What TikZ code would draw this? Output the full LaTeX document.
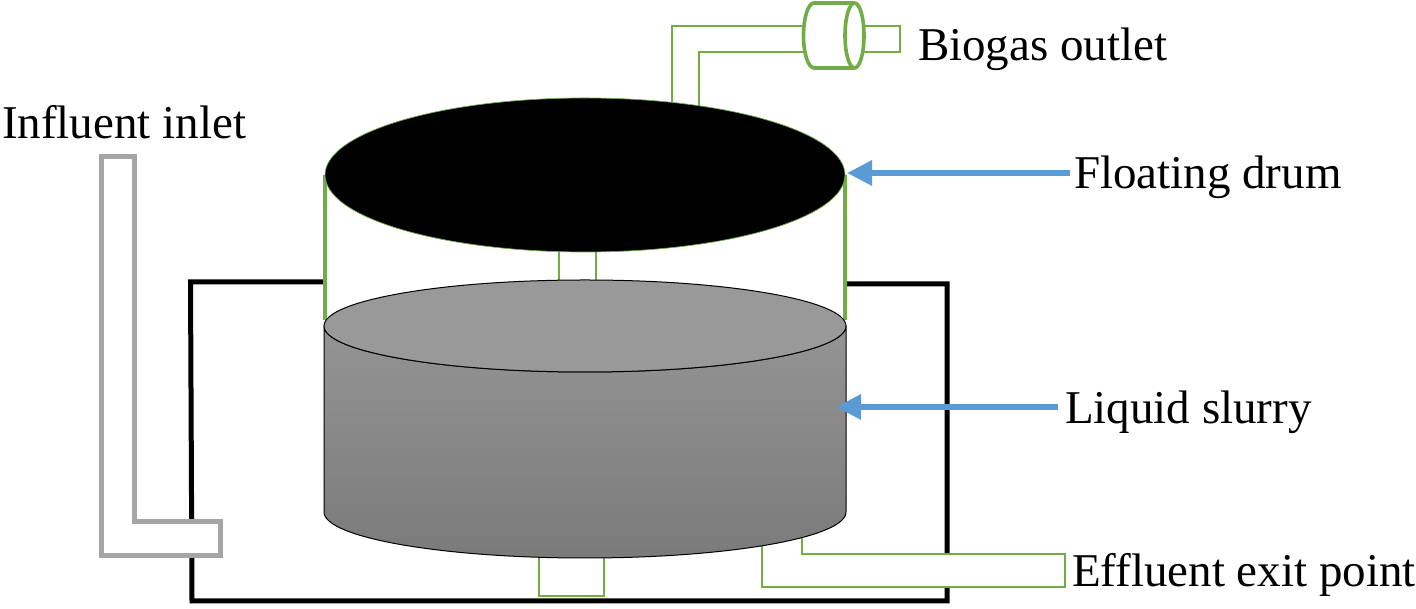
\documentclass[tikz,border=0pt]{standalone}
\usepackage{fontspec}
\setmainfont{Liberation Serif}
\usetikzlibrary{arrows.meta}

\definecolor{pipeColor}{RGB}{112,173,71}
\definecolor{inletColor}{RGB}{165,165,165}
\definecolor{arrowColor}{RGB}{91,155,213}

\tikzset{
  pipe/.style={draw=pipeColor,line width=1.6pt,line join=miter,fill=white},
  bluearrow/.style={draw=arrowColor,line width=6pt,-{Triangle[length=25pt,width=24pt]}},
  label/.style={anchor=base west,inner sep=0pt,outer sep=0pt,font=\fontsize{47}{52}\selectfont}
}

\begin{document}
\begin{tikzpicture}[x=1pt,y=1pt]
\path[use as bounding box,fill=white] (0,0) rectangle (1416,609);

% tank
\path[draw=black,line width=5pt,line join=miter] (326,327) -- (190.5,327) -- (192,8) -- (947,8) -- (947,325) -- (846,325);

% pipes behind the drum and the slurry
\path[pipe] (672,480) -- (672,583) -- (830,583) -- (830,557) -- (699,557) -- (699,480);
\path[pipe] (850,583) -- (900,583) -- (900,557) -- (850,557);
\path[pipe,fill=none] (559,290) -- (559,370);
\path[pipe,fill=none] (596,290) -- (596,370);
\path[pipe] (539,70) -- (539,13) -- (604,13) -- (604,70);
\path[pipe] (762,80) -- (762,22) -- (1065,22) -- (1065,55) -- (802,55) -- (802,80);

% gas holder on the outlet
\path[draw=pipeColor,line width=3.6pt,fill=white] (854.5,606) -- (814,606) arc (90:270:10.5 and 32.5) -- (854.5,541);
\path[draw=pipeColor,line width=3.6pt,fill=white] (854.5,573.5) ellipse (9.5 and 32.5);

% floating drum
\path[draw=pipeColor,line width=4.5pt] (325,434) -- (325,289);
\path[draw=pipeColor,line width=4.5pt] (845,434) -- (845,289);
\path[fill=black,draw=pipeColor,line width=0.7pt] (585,434) ellipse (260 and 77);

% liquid slurry
\path[top color=black!42,bottom color=black!52,draw=black,line width=1pt] (324,283) -- (324,97) arc (180:360:261 and 46) -- (846,283) arc (360:180:261 and 46) -- cycle;
\path[fill=black!40,draw=black,line width=1pt] (585,283) ellipse (261 and 46);

% influent pipe
\path[draw=inletColor,line width=5pt,fill=white,line join=miter] (101,452) -- (134,452) -- (134,87) -- (220,87) -- (220,53) -- (101,53) -- cycle;

% labels
\node[label] (biogas) at (918,548) {Biogas outlet};
\node[label] (influent) at (2,470) {Influent inlet};
\node[label] (floating) at (1074,420) {Floating drum};
\node[label] (liquid) at (1065,185) {Liquid slurry};
\node[label] (effluent) at (1072,22) {Effluent exit point};

\coordinate (floatingtip) at (847,436);
\coordinate (liquidtip) at (836,202);
\draw[bluearrow,shorten <=4pt] (floating.west |- floatingtip) -- (floatingtip);
\draw[bluearrow,shorten <=7pt] (liquid.west |- liquidtip) -- (liquidtip);
\end{tikzpicture}
\end{document}
